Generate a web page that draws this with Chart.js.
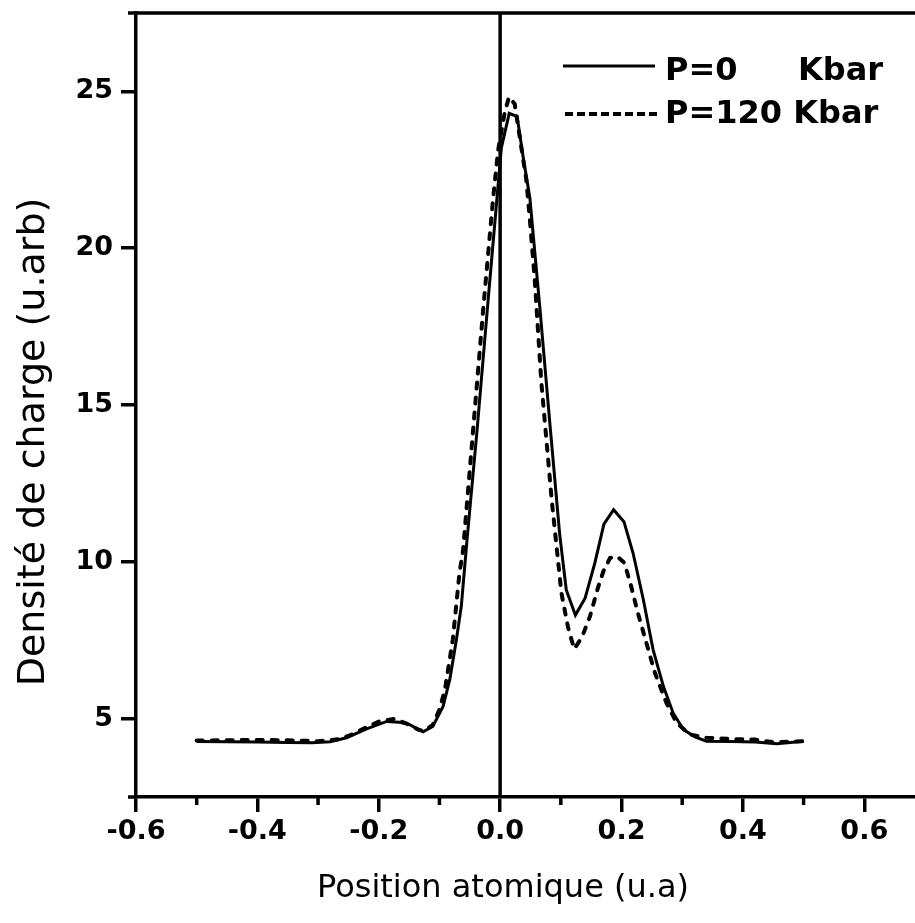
<!DOCTYPE html>
<html>
<head>
<meta charset="utf-8">
<script src="https://cdn.jsdelivr.net/npm/chart.js@4/dist/chart.umd.min.js"></script>
<style>
html,body{margin:0;padding:0;background:#fff;}
#wrap{width:915px;height:923px;position:relative;}
canvas{display:block;}
</style>
</head>
<body>
<div id="wrap"><canvas id="c" width="915" height="923"></canvas></div>
<script>
// ---- data ----
const xP0 = [-0.5, -0.45, -0.4, -0.35, -0.31, -0.28, -0.253, -0.22, -0.187, -0.166, -0.149, -0.127, -0.111, -0.094, -0.083, -0.072, -0.064, -0.055, -0.038, -0.02, 0.002, 0.015, 0.028, 0.038, 0.049, 0.065, 0.082, 0.098, 0.109, 0.124, 0.14, 0.156, 0.171, 0.187, 0.204, 0.219, 0.236, 0.252, 0.269, 0.285, 0.302, 0.321, 0.34, 0.38, 0.42, 0.456, 0.5];
const yP0 = [4.27, 4.26, 4.25, 4.24, 4.23, 4.26, 4.39, 4.67, 4.91, 4.88, 4.81, 4.58, 4.75, 5.39, 6.24, 7.52, 8.58, 10.6, 14.2, 18.3, 23.2, 24.3, 24.2, 22.9, 21.6, 18.2, 14.4, 10.9, 9.1, 8.3, 8.84, 9.96, 11.2, 11.66, 11.28, 10.28, 8.79, 7.2, 6.03, 5.18, 4.65, 4.42, 4.28, 4.27, 4.25, 4.2, 4.28];

const xP120 = [-0.5, -0.45, -0.4, -0.35, -0.3, -0.27, -0.248, -0.223, -0.199, -0.174, -0.155, -0.135, -0.125, -0.111, -0.1, -0.091, -0.078, -0.067, -0.061, -0.045, -0.028, -0.012, -0.0035, 0.0076, 0.0147, 0.024, 0.035, 0.043, 0.049, 0.057, 0.068, 0.085, 0.101, 0.112, 0.122, 0.135, 0.148, 0.161, 0.17, 0.181, 0.193, 0.205, 0.216, 0.227, 0.241, 0.255, 0.274, 0.291, 0.313, 0.34, 0.38, 0.42, 0.45, 0.5];
const yP120 = [4.3, 4.31, 4.32, 4.31, 4.28, 4.33, 4.46, 4.7, 4.91, 4.99, 4.85, 4.65, 4.6, 4.8, 5.29, 5.92, 7.52, 9.64, 10.38, 14.1, 18.03, 21.5, 23.1, 24.34, 24.82, 24.6, 23.2, 22.2, 20.9, 19.0, 15.7, 11.97, 9.0, 7.9, 7.22, 7.6, 8.26, 9.16, 9.69, 10.12, 10.17, 9.96, 9.21, 8.37, 7.41, 6.46, 5.5, 4.86, 4.49, 4.39, 4.35, 4.33, 4.25, 4.28];

const seriesNames = ["P=0", "P=120"];
const unitLabel = "Kbar";
const xTicks = [-0.6, -0.4, -0.2, 0.0, 0.2, 0.4, 0.6];
const xTickLabels = ["-0.6", "-0.4", "-0.2", "0.0", "0.2", "0.4", "0.6"];
const xMinorTicks = [-0.5, -0.3, -0.1, 0.1, 0.3, 0.5];
const yTicks = [5, 10, 15, 20, 25];
const yTickLabels = ["5", "10", "15", "20", "25"];
const xTitle = "Position atomique (u.a)";
const yTitle = "Densité de charge (u.arb)";

const toPts = (xs, ys) => xs.map((x, i) => ({x: x, y: ys[i]}));
const LW = 3.5;

const overlay = {
  id: 'overlay',
  beforeDatasetsDraw(chart) {
    const {ctx, chartArea: a, scales: {x}} = chart;
    const x0 = x.getPixelForValue(0);
    ctx.save();
    ctx.strokeStyle = '#000';
    ctx.lineWidth = LW;
    ctx.beginPath();
    ctx.moveTo(x0, a.top);
    ctx.lineTo(x0, a.bottom);
    ctx.stroke();
    ctx.restore();
  },
  afterDraw(chart) {
    const {ctx, chartArea: a, scales: {x}} = chart;
    ctx.save();
    ctx.strokeStyle = '#000';
    ctx.fillStyle = '#000';
    ctx.lineWidth = LW;
    // top frame line and left extensions
    ctx.beginPath();
    ctx.moveTo(a.left - 8, a.top);
    ctx.lineTo(a.right, a.top);
    ctx.moveTo(a.left - 8, a.bottom);
    ctx.lineTo(a.left, a.bottom);
    ctx.stroke();
    // minor ticks
    ctx.beginPath();
    xMinorTicks.forEach(v => {
      const px = x.getPixelForValue(v);
      ctx.moveTo(px, a.bottom);
      ctx.lineTo(px, a.bottom + 8);
    });
    ctx.stroke();
    // legend
    ctx.lineWidth = 3;
    ctx.beginPath();
    ctx.moveTo(563, 66);
    ctx.lineTo(655, 66);
    ctx.stroke();
    ctx.setLineDash([8, 4]);
    ctx.lineWidth = 4;
    ctx.beginPath();
    ctx.moveTo(565, 114);
    ctx.lineTo(657, 114);
    ctx.stroke();
    ctx.setLineDash([]);
    ctx.font = 'bold 32px "DejaVu Sans"';
    ctx.textBaseline = 'alphabetic';
    ctx.textAlign = 'left';
    ctx.fillText(seriesNames[0], 665, 80);
    ctx.fillText(unitLabel, 798, 80);
    ctx.fillText(seriesNames[1] + ' ' + unitLabel, 665, 123);
    // axis titles
    ctx.font = '32px "DejaVu Sans"';
    ctx.textAlign = 'center';
    ctx.fillText(xTitle, 503, 897);
    ctx.translate(44, 442);
    ctx.rotate(-Math.PI / 2);
    ctx.font = '38px "DejaVu Sans"';
    ctx.fillText(yTitle, 0, 0);
    ctx.restore();
  }
};

new Chart(document.getElementById('c'), {
  type: 'line',
  data: {
    datasets: [
      {
        label: seriesNames[0],
        data: toPts(xP0, yP0),
        borderColor: '#000',
        borderWidth: 3,
        pointRadius: 0,
        tension: 0,
        fill: false
      },
      {
        label: seriesNames[1],
        data: toPts(xP120, yP120),
        borderColor: '#000',
        borderWidth: 4,
        borderDash: [6, 9],
        borderCapStyle: 'round',
        pointRadius: 0,
        tension: 0,
        fill: false
      }
    ]
  },
  options: {
    responsive: false,
    devicePixelRatio: 1,
    animation: false,
    layout: {padding: {top: 13, right: 0, left: 0, bottom: 0}},
    plugins: {legend: {display: false}, tooltip: {enabled: false}},
    scales: {
      x: {
        type: 'linear',
        min: -0.6,
        max: 0.6836,
        afterBuildTicks: s => { s.ticks = xTicks.map(v => ({value: v})); },
        afterFit: s => { s.height = 126; s.paddingLeft = 0; s.paddingRight = 0; s.paddingTop = 0; s.paddingBottom = 0; },
        grid: {drawOnChartArea: false, drawTicks: true, tickLength: 15, lineWidth: LW, color: '#000'},
        border: {display: true, width: LW, color: '#000'},
        ticks: {
          autoSkip: false,
          maxRotation: 0,
          padding: 4,
          color: '#000',
          font: {family: 'DejaVu Sans', size: 27, weight: 'bold'},
          callback: (v) => { const i = xTicks.findIndex(t => Math.abs(t - v) < 1e-9); return i >= 0 ? xTickLabels[i] : ''; }
        }
      },
      y: {
        type: 'linear',
        min: 2.5,
        max: 27.5,
        afterBuildTicks: s => { s.ticks = yTicks.map(v => ({value: v})); },
        afterFit: s => { s.width = 136; s.paddingLeft = 0; s.paddingRight = 0; s.paddingTop = 0; s.paddingBottom = 0; },
        grid: {drawOnChartArea: false, drawTicks: true, tickLength: 15, lineWidth: LW, color: '#000'},
        border: {display: true, width: LW, color: '#000'},
        ticks: {
          autoSkip: false,
          padding: 8,
          color: '#000',
          font: {family: 'DejaVu Sans', size: 27, weight: 'bold'},
          callback: (v) => { const i = yTicks.findIndex(t => Math.abs(t - v) < 1e-9); return i >= 0 ? yTickLabels[i] : ''; }
        }
      }
    }
  },
  plugins: [overlay]
});
</script>
</body>
</html>
